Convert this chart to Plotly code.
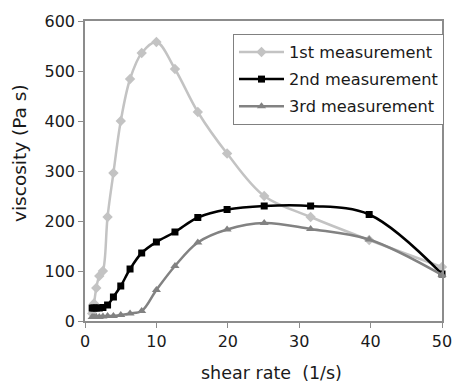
import plotly.graph_objects as go

shear_rate = [1.0, 1.26, 1.58, 2.0, 2.51, 3.16, 3.98, 5.01, 6.31, 7.94,
              10.0, 12.6, 15.8, 19.9, 25.1, 31.6, 39.8, 50.0]
visc_1st = [15, 35, 66, 90, 100, 208, 296, 400, 484, 536,
            558, 504, 418, 335, 250, 208, 162, 108]
visc_2nd = [26, 26, 26, 26, 27, 32, 48, 70, 104, 136,
            158, 178, 207, 223, 230, 230, 213, 94]
visc_3rd = [8, 8, 8, 8, 9, 10, 10, 12, 15, 20,
            62, 110, 157, 183, 196, 184, 163, 92]
series_names = ["1st measurement", "2nd measurement", "3rd measurement"]
x_ticks = [0, 10, 20, 30, 40, 50]
y_ticks = [0, 100, 200, 300, 400, 500, 600]

FONT = "DejaVu Sans, Liberation Sans, Arial, sans-serif"
AXIS_GRAY = "#8c8c8c"
TEXT = "#1a1a1a"

styles = [
    dict(color="#c3c3c3", symbol="diamond", size=8),
    dict(color="#000000", symbol="square", size=7),
    dict(color="#828282", symbol="triangle-up", size=8),
]

fig = go.Figure()
for i, (name, ys) in enumerate(zip(series_names, [visc_1st, visc_2nd, visc_3rd])):
    st = styles[i]
    fig.add_trace(go.Scatter(
        x=shear_rate, y=ys, name=name, mode="lines+markers",
        legendgroup=f"g{i}",
        line=dict(color=st["color"], width=2.5, shape="spline", smoothing=1.0),
        marker=dict(color=st["color"], symbol=st["symbol"], size=st["size"]),
        cliponaxis=False,
    ))

fig.update_layout(
    width=454, height=383,
    margin=dict(l=85, r=12, t=21, b=62, autoexpand=False),
    paper_bgcolor="white", plot_bgcolor="white",
    font=dict(family=FONT, size=16, color=TEXT),
    showlegend=True,
    legend=dict(
        x=(233 - 85) / 357, y=(321 - 34) / 300, xanchor="left", yanchor="top",
        bgcolor="white", bordercolor="#808080", borderwidth=1,
        font=dict(family=FONT, size=16.2, color=TEXT),
        itemwidth=45, tracegroupgap=3,
    ),
    xaxis=dict(
        range=[0, 50], tickvals=x_ticks, ticks="outside", ticklen=5,
        tickcolor=AXIS_GRAY, showline=True, linecolor=AXIS_GRAY, linewidth=1.5,
        mirror=True, showgrid=False, zeroline=False, automargin=False,
        tickfont=dict(size=16),
    ),
    yaxis=dict(
        range=[0, 600], tickvals=y_ticks, ticks="outside", ticklen=5,
        tickcolor=AXIS_GRAY, showline=True, linecolor=AXIS_GRAY, linewidth=1.5,
        mirror=True, showgrid=False, zeroline=False, automargin=False,
        tickfont=dict(size=16),
    ),
    annotations=[
        dict(text="shear rate\u00a0 (1/s)", xref="paper", yref="paper",
             x=(271 - 85) / 357, y=-(373 - 321) / 300,
             xanchor="center", yanchor="middle", showarrow=False,
             font=dict(family=FONT, size=17.5, color=TEXT)),
        dict(text="viscosity (Pa s)", xref="paper", yref="paper",
             x=-(85 - 20) / 357, y=(321 - 153) / 300, textangle=-90,
             xanchor="center", yanchor="middle", showarrow=False,
             font=dict(family=FONT, size=18.5, color=TEXT)),
    ],
)

fig.write_html(
    "out.html",
    config={"displayModeBar": False},
    post_script="document.body.style.margin='0';document.body.style.overflow='hidden';",
)
